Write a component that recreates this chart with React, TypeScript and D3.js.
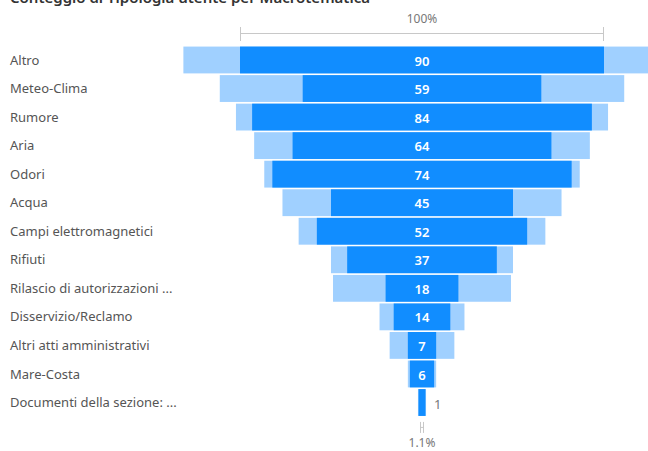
import React from "react";
import * as d3 from "d3";

const categories = [
  "Altro",
  "Meteo-Clima",
  "Rumore",
  "Aria",
  "Odori",
  "Acqua",
  "Campi elettromagnetici",
  "Rifiuti",
  "Rilascio di autorizzazioni ...",
  "Disservizio/Reclamo",
  "Altri atti amministrativi",
  "Mare-Costa",
  "Documenti della sezione: ...",
];
const highlighted = [90, 59, 84, 64, 74, 45, 52, 37, 18, 14, 7, 6, 1];
const totals = [118, 100, 92, 83, 78, 69, 61, 45, 44, 21, 16, 7, 2];
const title = "Conteggio di Tipologia utente per Macrotematica";
const topLabel = "100%";
const bottomLabel = "1.1%";

const W = 648;
const H = 451;
const FONT = "'Segoe UI', 'Noto Sans', 'Open Sans', sans-serif";

export default function App() {
  const cx = 422;
  const w = d3.scaleLinear().domain([0, highlighted[0]]).range([0, 364]);
  const y = d3
    .scaleBand<string>()
    .domain(categories)
    .range([46, 416.5])
    .paddingInner(0.06)
    .paddingOuter(0.02);
  const bh = y.bandwidth();
  const minW = 7;
  const x0 = cx - w(highlighted[0]) / 2;
  const x1 = cx + w(highlighted[0]) / 2;
  const last = highlighted.length - 1;
  const lastBottom = y(categories[last])! + bh;

  return (
    <svg
      width={W}
      height={H}
      style={{ position: "absolute", left: 0, top: 0, background: "#fff" }}
      fontFamily={FONT}
    >
      <text x={10} y={3} fontSize={15} fontWeight={600} fill="#333">
        {title}
      </text>
      {/* top 100% bracket */}
      <text x={cx} y={23} textAnchor="middle" fontSize={12} fill="#777">
        {topLabel}
      </text>
      <g stroke="#c8c8c8" strokeWidth={1}>
        <line x1={x0} x2={x1} y1={33.5} y2={33.5} />
        <line x1={x0 + 0.5} x2={x0 + 0.5} y1={27} y2={41} />
        <line x1={x1 - 0.5} x2={x1 - 0.5} y1={27} y2={41} />
      </g>
      {categories.map((c, i) => {
        const tw = Math.max(w(totals[i]), minW);
        const hw = Math.max(w(highlighted[i]), minW);
        const yy = y(c)!;
        const big = hw > 20;
        return (
          <g key={c}>
            <text
              x={10}
              y={yy + bh / 2}
              dy="0.35em"
              fontSize={13}
              fill="#555"
            >
              {c}
            </text>
            <rect x={cx - tw / 2} y={yy} width={tw} height={bh} fill="#a0d0ff" />
            <rect x={cx - hw / 2} y={yy} width={hw} height={bh} fill="#118dff" />
            {big ? (
              <text
                x={cx}
                y={yy + bh / 2 + 1}
                dy="0.35em"
                textAnchor="middle"
                fontSize={13}
                fontWeight={600}
                fill="#fff"
              >
                {highlighted[i]}
              </text>
            ) : (
              <text
                x={cx + Math.max(tw, hw) / 2 + 8}
                y={yy + bh / 2 + 2}
                dy="0.35em"
                fontSize={13}
                fill="#777"
              >
                {highlighted[i]}
              </text>
            )}
          </g>
        );
      })}
      {/* bottom bracket */}
      <g stroke="#c8c8c8" strokeWidth={1}>
        <line x1={cx - 1.5} x2={cx - 1.5} y1={lastBottom + 6} y2={lastBottom + 17} />
        <line x1={cx + 1.5} x2={cx + 1.5} y1={lastBottom + 6} y2={lastBottom + 17} />
        <line x1={cx - 1.5} x2={cx + 1.5} y1={lastBottom + 11.5} y2={lastBottom + 11.5} />
      </g>
      <text x={cx} y={447} textAnchor="middle" fontSize={12} fill="#777">
        {bottomLabel}
      </text>
    </svg>
  );
}
